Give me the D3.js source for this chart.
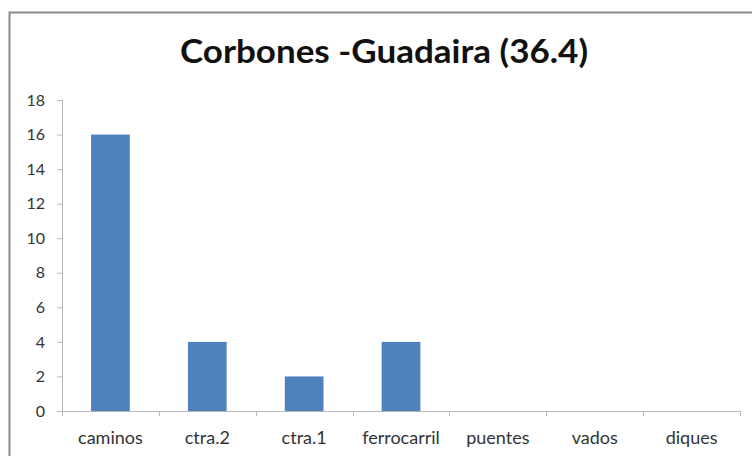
<!DOCTYPE html>
<html>
<head>
<meta charset="utf-8">
<script src="https://cdn.jsdelivr.net/npm/d3@7"></script>
<style>
  body { margin: 0; background: #fff; }
  #chart { width: 752px; height: 456px; }
  .axis path, .axis line { stroke: #b8b8b8; }
  .axis text { fill: #333; font-family: Lato, "Open Sans", sans-serif; }
</style>
</head>
<body>
<div id="chart"></div>
<script>
//data
var categories = ['caminos', 'ctra.2', 'ctra.1', 'ferrocarril', 'puentes', 'vados', 'diques'];
var values = [16, 4, 2, 4, 0, 0, 0];
var yTicks = [0, 2, 4, 6, 8, 10, 12, 14, 16, 18];
var title = 'Corbones -Guadaira (36.4)';

//sizes
var outerW = 752,
    outerH = 456,
    margin = {left: 62, right: 12, top: 100, bottom: 45};
var w = outerW - margin.left - margin.right,
    h = outerH - margin.top - margin.bottom;

var svg = d3.select('#chart').append('svg')
    .attr('width', outerW)
    .attr('height', outerH);

//frame (only left and top edges are visible in the crop)
svg.append('path')
    .attr('d', 'M9.5,' + outerH + 'V12.5H' + outerW)
    .attr('fill', 'none')
    .attr('stroke', '#8a8a8a')
    .attr('stroke-width', 2);

svg.append('text')
    .attr('x', 384)
    .attr('y', 63)
    .attr('text-anchor', 'middle')
    .attr('font-family', 'Lato, "Open Sans", sans-serif')
    .attr('font-weight', 'bold')
    .attr('font-size', 32)
    .attr('textLength', 408)
    .attr('lengthAdjust', 'spacingAndGlyphs')
    .attr('fill', '#111')
    .text(title);

var g = svg.append('g')
    .attr('transform', 'translate(' + margin.left + ',' + margin.top + ')');

//scales
var xScale = d3.scaleBand().domain(categories).range([0, w]).paddingInner(0.6).paddingOuter(0.3);
var yScale = d3.scaleLinear().domain([0, 18]).range([h, 0]);

var yAxis = d3.axisLeft(yScale)
    .tickValues(yTicks)
    .tickSize(5)
    .tickSizeOuter(0)
    .tickPadding(12);

var yg = g.append('g')
    .attr('class', 'axis y-axis')
    .call(yAxis);
yg.select('.domain').attr('d', 'M0.5,0V' + h);
yg.selectAll('text').attr('font-size', 16);

//x axis: ticks at category boundaries, labels in the middle
var xg = g.append('g')
    .attr('class', 'axis x-axis')
    .attr('transform', 'translate(0,' + h + ')');

xg.append('line')
    .attr('x1', 0).attr('x2', w)
    .attr('y1', 0.5).attr('y2', 0.5);

var step = w / categories.length;
xg.selectAll('.xtick')
    .data(d3.range(categories.length + 1))
    .enter()
    .append('line')
    .attr('class', 'xtick')
    .attr('x1', function(d) { return Math.round(d * step) + 0.5; })
    .attr('x2', function(d) { return Math.round(d * step) + 0.5; })
    .attr('y1', 0).attr('y2', 5);

xg.selectAll('.xlabel')
    .data(categories)
    .enter()
    .append('text')
    .attr('class', 'xlabel')
    .attr('x', function(d) { return xScale(d) + xScale.bandwidth() / 2; })
    .attr('y', 33)
    .attr('text-anchor', 'middle')
    .attr('font-size', 18)
    .text(function(d) { return d; });

g.selectAll('.bar')
    .data(values)
    .enter()
    .append('rect')
    .attr('class', 'bar')
    .attr('x', function(d, i) { return xScale(categories[i]); })
    .attr('y', function(d) { return yScale(d); })
    .attr('width', xScale.bandwidth())
    .attr('height', function(d) { return h - yScale(d); })
    .attr('fill', '#4f81bd');
</script>
</body>
</html>
